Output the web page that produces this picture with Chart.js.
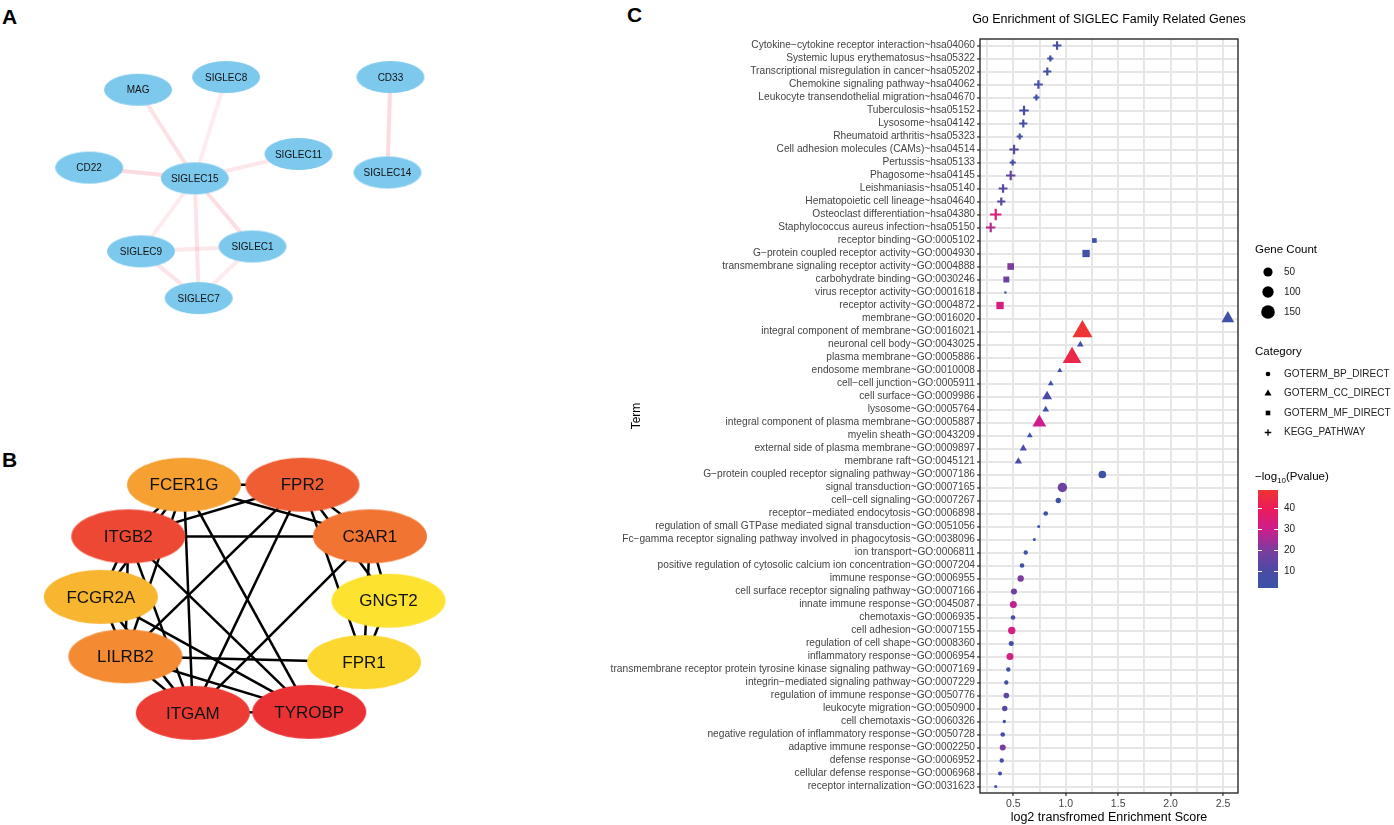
<!DOCTYPE html>
<html>
<head>
<meta charset="utf-8">
<script src="https://cdn.jsdelivr.net/npm/chart.js@4.4.1/dist/chart.umd.min.js"></script>
<style>
  body { margin: 0; background: #fff; width: 1394px; height: 825px; overflow: hidden; position: relative; }
  .panel { position: absolute; }
  .tag { position: absolute; font: bold 21px "Liberation Sans", Arial, sans-serif; color: #000; }
</style>
</head>
<body>
<div class="tag" style="left:2px;top:5px">A</div>
<div class="tag" style="left:2px;top:448px">B</div>
<div class="tag" style="left:627px;top:3px">C</div>
<div class="panel" style="left:0;top:0;width:460px;height:380px"><canvas id="netA"></canvas></div>
<div class="panel" style="left:0;top:390px;width:460px;height:400px"><canvas id="netB"></canvas></div>
<div class="panel" style="left:600px;top:0;width:794px;height:825px"><canvas id="goChart"></canvas></div>

<script>
Chart.defaults.font.family = '"Liberation Sans", Arial, sans-serif';
Chart.defaults.animation = false;

// ---------- Panel A: SIGLEC family network ----------
const nodesA = ['MAG', 'SIGLEC8', 'CD33', 'CD22', 'SIGLEC15', 'SIGLEC11', 'SIGLEC14', 'SIGLEC9', 'SIGLEC1', 'SIGLEC7'];
const layoutAx = [136, 226, 394, 86, 194, 300, 391, 139, 253, 198];
const layoutAy = [87, 74, 74, 167, 178, 153, 172, 253, 248, 301];
// [from, to, combined score]
const edgesA = [
    ['SIGLEC15', 'MAG', 0.75], ['SIGLEC15', 'SIGLEC8', 0.45], ['SIGLEC15', 'CD22', 0.9],
    ['SIGLEC15', 'SIGLEC11', 0.6], ['SIGLEC15', 'SIGLEC9', 0.5], ['SIGLEC15', 'SIGLEC1', 0.85],
    ['SIGLEC15', 'SIGLEC7', 0.7], ['SIGLEC9', 'SIGLEC1', 0.6], ['SIGLEC9', 'SIGLEC7', 0.65],
    ['SIGLEC1', 'SIGLEC7', 0.5], ['CD33', 'SIGLEC14', 0.9]
];

// ---------- Panel B: hub genes ----------
const nodesB = ['FCER1G', 'FPR2', 'ITGB2', 'C3AR1', 'FCGR2A', 'GNGT2', 'LILRB2', 'FPR1', 'ITGAM', 'TYROBP'];
const layoutBx = [183, 304, 126, 373, 98, 392, 123, 367, 192, 311];
const layoutBy = [482, 482, 535, 535, 597, 601, 658, 664, 716, 715];
const hubScoreB = [4, 7, 8, 6, 3, 1, 5, 1.5, 8.5, 9];
const edgesB = [
    ['FCER1G', 'FPR2'], ['ITGAM', 'TYROBP'], ['ITGB2', 'C3AR1'], ['LILRB2', 'FPR1'],
    ['FCER1G', 'ITGAM'], ['FCER1G', 'TYROBP'], ['FCER1G', 'C3AR1'], ['FCER1G', 'ITGB2'],
    ['FCER1G', 'FCGR2A'], ['FCER1G', 'LILRB2'],
    ['FPR2', 'ITGB2'], ['FPR2', 'LILRB2'], ['FPR2', 'ITGAM'], ['FPR2', 'C3AR1'],
    ['FPR2', 'GNGT2'], ['FPR2', 'FPR1'],
    ['C3AR1', 'GNGT2'], ['C3AR1', 'FPR1'], ['C3AR1', 'ITGAM'],
    ['GNGT2', 'FPR1'], ['FPR1', 'TYROBP'],
    ['ITGB2', 'FCGR2A'], ['ITGB2', 'LILRB2'], ['ITGB2', 'ITGAM'], ['ITGB2', 'TYROBP'],
    ['FCGR2A', 'LILRB2'], ['FCGR2A', 'ITGAM'], ['FCGR2A', 'TYROBP'],
    ['LILRB2', 'ITGAM'], ['LILRB2', 'TYROBP']
];

// ---------- Panel C: enrichment ----------
const goTerms = [
    'Cytokine−cytokine receptor interaction~hsa04060',
    'Systemic lupus erythematosus~hsa05322',
    'Transcriptional misregulation in cancer~hsa05202',
    'Chemokine signaling pathway~hsa04062',
    'Leukocyte transendothelial migration~hsa04670',
    'Tuberculosis~hsa05152',
    'Lysosome~hsa04142',
    'Rheumatoid arthritis~hsa05323',
    'Cell adhesion molecules (CAMs)~hsa04514',
    'Pertussis~hsa05133',
    'Phagosome~hsa04145',
    'Leishmaniasis~hsa05140',
    'Hematopoietic cell lineage~hsa04640',
    'Osteoclast differentiation~hsa04380',
    'Staphylococcus aureus infection~hsa05150',
    'receptor binding~GO:0005102',
    'G−protein coupled receptor activity~GO:0004930',
    'transmembrane signaling receptor activity~GO:0004888',
    'carbohydrate binding~GO:0030246',
    'virus receptor activity~GO:0001618',
    'receptor activity~GO:0004872',
    'membrane~GO:0016020',
    'integral component of membrane~GO:0016021',
    'neuronal cell body~GO:0043025',
    'plasma membrane~GO:0005886',
    'endosome membrane~GO:0010008',
    'cell−cell junction~GO:0005911',
    'cell surface~GO:0009986',
    'lysosome~GO:0005764',
    'integral component of plasma membrane~GO:0005887',
    'myelin sheath~GO:0043209',
    'external side of plasma membrane~GO:0009897',
    'membrane raft~GO:0045121',
    'G−protein coupled receptor signaling pathway~GO:0007186',
    'signal transduction~GO:0007165',
    'cell−cell signaling~GO:0007267',
    'receptor−mediated endocytosis~GO:0006898',
    'regulation of small GTPase mediated signal transduction~GO:0051056',
    'Fc−gamma receptor signaling pathway involved in phagocytosis~GO:0038096',
    'ion transport~GO:0006811',
    'positive regulation of cytosolic calcium ion concentration~GO:0007204',
    'immune response~GO:0006955',
    'cell surface receptor signaling pathway~GO:0007166',
    'innate immune response~GO:0045087',
    'chemotaxis~GO:0006935',
    'cell adhesion~GO:0007155',
    'regulation of cell shape~GO:0008360',
    'inflammatory response~GO:0006954',
    'transmembrane receptor protein tyrosine kinase signaling pathway~GO:0007169',
    'integrin−mediated signaling pathway~GO:0007229',
    'regulation of immune response~GO:0050776',
    'leukocyte migration~GO:0050900',
    'cell chemotaxis~GO:0060326',
    'negative regulation of inflammatory response~GO:0050728',
    'adaptive immune response~GO:0002250',
    'defense response~GO:0006952',
    'cellular defense response~GO:0006968',
    'receptor internalization~GO:0031623'
];
const goCategory = [].concat(
    Array(15).fill('KEGG_PATHWAY'),
    Array(6).fill('GOTERM_MF_DIRECT'),
    Array(12).fill('GOTERM_CC_DIRECT'),
    Array(25).fill('GOTERM_BP_DIRECT')
);
const enrichScore = [
    0.917, 0.853, 0.824, 0.739, 0.72, 0.602, 0.595, 0.561, 0.507, 0.494, 0.475, 0.402, 0.385, 0.332, 0.284,
    1.273, 1.194, 0.475, 0.433, 0.424, 0.373,
    2.546, 1.159, 1.139, 1.06, 0.943, 0.857, 0.822, 0.809, 0.748, 0.657, 0.595, 0.548,
    1.349, 0.968, 0.929, 0.809, 0.742, 0.70, 0.618, 0.583, 0.57, 0.506, 0.50, 0.497, 0.485, 0.48, 0.468,
    0.452, 0.433, 0.433, 0.418, 0.414, 0.399, 0.399, 0.389, 0.373, 0.332
];
const geneCount = [
    27, 10, 22, 27, 10, 33, 21, 10, 33, 10, 33, 27, 22, 55, 33,
    12, 42, 32, 24, 3, 42,
    62, 185, 10, 159, 5, 7, 31, 10, 75, 7, 13, 13,
    49, 82, 18, 12, 4, 4, 10, 12, 29, 25, 38, 12, 44, 15, 38, 10, 10, 21, 18, 5, 12, 25, 10, 8, 4
];
const negLogP = [
    6, 4, 5, 7, 4, 10, 7, 6, 13, 7, 15, 13, 13, 34, 27,
    3, 5, 20, 17, 4, 33,
    5, 48.7, 2.5, 44, 2.5, 3, 10, 4, 30, 4, 9, 9,
    4, 17, 3, 4, 2.1, 3, 4, 5, 20, 17, 28, 6, 32, 8, 32, 5, 7, 14, 12, 5, 9, 19, 7, 8, 6
];
const categories = ['GOTERM_BP_DIRECT', 'GOTERM_CC_DIRECT', 'GOTERM_MF_DIRECT', 'KEGG_PATHWAY'];
const sizeBreaks = [50, 100, 150];
const colourBreaks = [10, 20, 30, 40];
const xTicks = [0.25, 0.5, 0.75, 1.0, 1.25, 1.5, 1.75, 2.0, 2.25, 2.5];
const chartTitle = 'Go Enrichment of SIGLEC Family Related Genes';

// ---------- helpers ----------
function makeEllipse(rx, ry, color) {
    const c = document.createElement('canvas');
    c.width = rx * 2 + 2;
    c.height = ry * 2 + 2;
    const g = c.getContext('2d');
    g.fillStyle = color;
    g.beginPath();
    g.ellipse(rx + 1, ry + 1, rx, ry, 0, 0, Math.PI * 2);
    g.fill();
    return c;
}

const nodeLabels = {
    id: 'nodeLabels',
    afterDatasetsDraw(chart, args, opts) {
        const meta = chart.getDatasetMeta(0);
        const ctx = chart.ctx;
        ctx.save();
        ctx.font = opts.font;
        ctx.fillStyle = '#111';
        ctx.textAlign = 'center';
        ctx.textBaseline = 'middle';
        meta.data.forEach((pt, i) => ctx.fillText(opts.names[i], pt.x, pt.y + 1));
        ctx.restore();
    }
};

function networkChart(canvasId, names, lx, ly, edges, edgeColor, edgeWidth, nodeStyle, font, yMin, yMax) {
    const idx = {};
    names.forEach((n, i) => idx[n] = i);
    const edgeSets = edges.map(e => ({
        type: 'line',
        data: [{ x: lx[idx[e[0]]], y: ly[idx[e[0]]] }, { x: lx[idx[e[1]]], y: ly[idx[e[1]]] }],
        borderColor: edgeColor(e),
        borderWidth: edgeWidth,
        pointRadius: 0,
        order: 1
    }));
    return new Chart(document.getElementById(canvasId), {
        type: 'scatter',
        data: {
            datasets: [{
                data: names.map((n, i) => ({ x: lx[i], y: ly[i] })),
                pointStyle: names.map((n, i) => nodeStyle(i)),
                order: 0
            }, ...edgeSets]
        },
        options: {
            responsive: true,
            maintainAspectRatio: false,
            events: [],
            layout: { padding: 0 },
            scales: {
                x: { type: 'linear', min: 0, max: 460, display: false },
                y: { type: 'linear', min: yMin, max: yMax, reverse: true, display: false }
            },
            plugins: {
                legend: { display: false },
                tooltip: { enabled: false },
                nodeLabels: { names: names, font: font }
            }
        },
        plugins: [nodeLabels]
    });
}

// Panel A
const ellipseA = makeEllipse(34, 16, '#7dc9ed');
networkChart('netA', nodesA, layoutAx, layoutAy, edgesA,
    e => 'rgba(244,150,165,' + (e[2] * 0.38).toFixed(2) + ')', 4,
    () => ellipseA, '10px "Liberation Sans", Arial, sans-serif', 0, 380);

// Panel B: colour by hub score, yellow -> red
function hubColor(s) {
    const lo = Math.min(...hubScoreB), hi = Math.max(...hubScoreB);
    const t = (s - lo) / (hi - lo);
    const a = [253, 226, 47], b = [234, 50, 52];
    const c = a.map((v, k) => Math.round(v + (b[k] - v) * t));
    return 'rgb(' + c.join(',') + ')';
}
networkChart('netB', nodesB, layoutBx, layoutBy, edgesB,
    () => '#000', 2.5,
    i => makeEllipse(57, 27, hubColor(hubScoreB[i])), '17px "Liberation Sans", Arial, sans-serif', 390, 790);

// ---------- Panel C ----------
const pStops = [2, 10, 20, 30, 40, 48.7];
const pStopColors = [[59, 84, 165], [74, 75, 166], [125, 60, 158], [205, 30, 140], [236, 28, 90], [238, 52, 52]];
function pColor(v) {
    if (v <= pStops[0]) return 'rgb(' + pStopColors[0].join(',') + ')';
    for (let k = 1; k < pStops.length; k++) {
        if (v <= pStops[k]) {
            const t = (v - pStops[k - 1]) / (pStops[k] - pStops[k - 1]);
            const c = pStopColors[k - 1].map((a, j) => Math.round(a + (pStopColors[k][j] - a) * t));
            return 'rgb(' + c.join(',') + ')';
        }
    }
    return 'rgb(' + pStopColors[pStopColors.length - 1].join(',') + ')';
}
const cMin = Math.min(...geneCount), cMax = Math.max(...geneCount);
const pMin = Math.min(...negLogP), pMax = Math.max(...negLogP);
// ggplot-like area scaling: size 1..6
function baseRadius(c) {
    return 1.1 * (1 + 5 * Math.sqrt((c - cMin) / (cMax - cMin)));
}
const shapeOf = { GOTERM_BP_DIRECT: 'circle', GOTERM_CC_DIRECT: 'triangle', GOTERM_MF_DIRECT: 'rect', KEGG_PATHWAY: 'cross' };
const shapeScale = { circle: 1, triangle: 1.75, rect: 1.42, cross: 1.41 };

const goDatasets = categories.map(cat => {
    const shape = shapeOf[cat];
    const pts = [];
    goTerms.forEach((t, i) => {
        if (goCategory[i] === cat) pts.push({ x: enrichScore[i], y: t, i: i });
    });
    return {
        label: cat,
        data: pts,
        pointStyle: shape,
        pointRadius: ctx => baseRadius(geneCount[ctx.raw.i]) * shapeScale[shape],
        backgroundColor: ctx => pColor(negLogP[ctx.raw.i]),
        borderColor: ctx => pColor(negLogP[ctx.raw.i]),
        borderWidth: shape === 'cross' ? 2.2 : 0,
        clip: false
    };
});

const goDecor = {
    id: 'goDecor',
    afterDraw(chart) {
        const { ctx, chartArea: a } = chart;
        const font = px => px + 'px "Liberation Sans", Arial, sans-serif';
        ctx.save();
        // panel border
        ctx.strokeStyle = '#1a1a1a';
        ctx.lineWidth = 1.3;
        ctx.strokeRect(a.left, a.top, a.right - a.left, a.bottom - a.top);
        // title
        ctx.fillStyle = '#000';
        ctx.textAlign = 'center';
        ctx.textBaseline = 'middle';
        ctx.font = font(12.5);
        ctx.fillText(chartTitle, (a.left + a.right) / 2, 20);

        const x0 = a.right + 17;
        const keyX = x0 + 13;
        const labX = x0 + 29;
        ctx.textAlign = 'left';
        // Gene Count
        ctx.font = font(11.5);
        ctx.fillText('Gene Count', x0, 250);
        ctx.font = font(10);
        sizeBreaks.forEach((b, k) => {
            const y = 272 + k * 20;
            ctx.fillStyle = '#000';
            ctx.beginPath();
            ctx.arc(keyX, y, 4.6 + k * 1.1, 0, Math.PI * 2);
            ctx.fill();
            ctx.fillStyle = '#222';
            ctx.fillText(String(b), labX, y);
        });
        // Category
        ctx.fillStyle = '#000';
        ctx.font = font(11.5);
        ctx.fillText('Category', x0, 352);
        ctx.font = font(10);
        categories.forEach((cat, k) => {
            const y = 374 + k * 19.5;
            const shape = shapeOf[cat];
            ctx.fillStyle = '#000';
            ctx.strokeStyle = '#000';
            Chart.helpers.drawPoint(ctx, {
                pointStyle: shape,
                radius: 2.3 * shapeScale[shape],
                borderWidth: shape === 'cross' ? 1.6 : 0,
                rotation: 0
            }, keyX, y);
            ctx.fillStyle = '#222';
            ctx.fillText(cat, labX, y);
        });
        // colour bar title: -log10(Pvalue)
        ctx.fillStyle = '#000';
        ctx.font = font(11.5);
        let tx = x0;
        ctx.fillText('\u2212log', tx, 477);
        tx += ctx.measureText('\u2212log').width;
        ctx.font = font(8);
        ctx.fillText('10', tx, 481);
        tx += ctx.measureText('10').width;
        ctx.font = font(11.5);
        ctx.fillText('(Pvalue)', tx, 477);
        // colour bar
        const barL = x0 + 3, barW = 20, barTop = 490, barBot = 588;
        for (let y = barTop; y < barBot; y++) {
            const v = pMin + (pMax - pMin) * (barBot - y - 0.5) / (barBot - barTop);
            ctx.fillStyle = pColor(v);
            ctx.fillRect(barL, y, barW, 1);
        }
        ctx.strokeStyle = '#fff';
        ctx.lineWidth = 1;
        ctx.font = font(10);
        colourBreaks.forEach(b => {
            const y = Math.round(barBot - (b - pMin) / (pMax - pMin) * (barBot - barTop)) + 0.5;
            ctx.beginPath();
            ctx.moveTo(barL, y); ctx.lineTo(barL + 4, y);
            ctx.moveTo(barL + barW - 4, y); ctx.lineTo(barL + barW, y);
            ctx.stroke();
            ctx.fillStyle = '#222';
            ctx.fillText(String(b), labX, y);
        });
        ctx.restore();
    }
};

new Chart(document.getElementById('goChart'), {
    type: 'scatter',
    data: { labels: goTerms, datasets: goDatasets },
    options: {
        responsive: true,
        maintainAspectRatio: false,
        events: [],
        layout: { padding: { left: 0, right: 156, top: 39, bottom: 0 } },
        scales: {
            x: {
                type: 'linear',
                min: 0.182,
                max: 2.643,
                afterBuildTicks: scale => { scale.ticks = xTicks.map(v => ({ value: v })); },
                afterFit: scale => { scale.height = 32; },
                ticks: {
                    color: '#444',
                    font: { size: 10.5 },
                    padding: 2,
                    maxRotation: 0,
                    autoSkip: false,
                    callback: v => (v * 2) % 1 === 0 ? v.toFixed(1) : ''
                },
                grid: {
                    color: '#e6e6e6',
                    lineWidth: 1.9,
                    tickLength: 3,
                    tickWidth: 1.2,
                    tickColor: ctx => (ctx.tick && (ctx.tick.value * 2) % 1 === 0) ? '#333' : 'rgba(0,0,0,0)'
                },
                border: { display: false },
                title: {
                    display: true,
                    text: 'log2 transfromed Enrichment Score',
                    color: '#000',
                    font: { size: 12.5 },
                    padding: { top: 0, bottom: 0 }
                }
            },
            y: {
                type: 'category',
                labels: goTerms,
                offset: true,
                afterFit: scale => { scale.width = 380; },
                ticks: {
                    color: '#444',
                    font: { size: 10.2 },
                    padding: 2,
                    autoSkip: false
                },
                grid: {
                    offset: false,
                    color: '#e6e6e6',
                    lineWidth: 1.9,
                    tickLength: 3,
                    tickWidth: 1.2,
                    tickColor: '#333'
                },
                border: { display: false },
                title: {
                    display: true,
                    text: 'Term',
                    color: '#000',
                    font: { size: 12 },
                    padding: { top: 29, bottom: 0 }
                }
            }
        },
        plugins: {
            legend: { display: false },
            tooltip: { enabled: false }
        }
    },
    plugins: [goDecor]
});
</script>
</body>
</html>
